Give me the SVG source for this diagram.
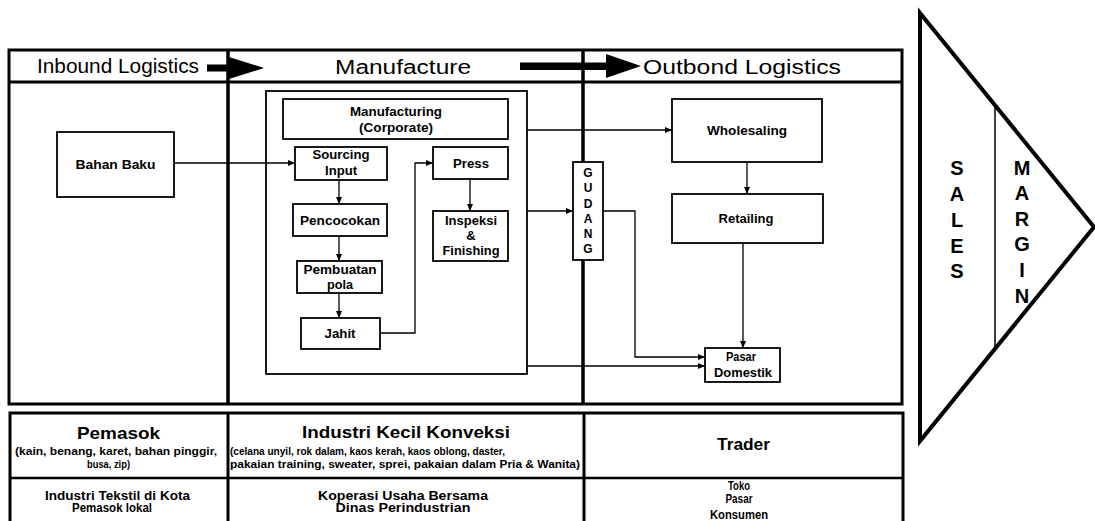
<svg xmlns="http://www.w3.org/2000/svg" width="1095" height="521" viewBox="0 0 1095 521">
<style>
text{font-family:"Liberation Sans",Arial,sans-serif;fill:#000}
.hd{font-size:20px}
.nd{font-size:13px;font-weight:bold;text-anchor:middle}
.sm{font-size:10px;font-weight:bold;text-anchor:middle}
.bt{font-size:17px;font-weight:bold;text-anchor:middle}
.r2{font-size:12px;font-weight:bold;text-anchor:middle}
.gd{font-size:12px;font-weight:bold;text-anchor:middle}
.vl{font-size:20px;font-weight:bold;text-anchor:middle}
.box{fill:#fff;stroke:#000;stroke-width:1.8}
.frame{fill:none;stroke:#000;stroke-width:3}
.con{fill:none;stroke:#000;stroke-width:1.3}
</style>
<defs>
<marker id="ah" markerWidth="8" markerHeight="8" refX="7" refY="4" orient="auto" markerUnits="userSpaceOnUse">
<path d="M0,1 L7,4 L0,7 Z" fill="#000"/>
</marker>
</defs>
<rect width="1095" height="521" fill="#fff"/>

<g id="frame">
<rect class="frame" x="9" y="50" width="893" height="354"/>
<line x1="9" y1="82" x2="902" y2="82" stroke="#000" stroke-width="3"/>
<line x1="228" y1="50" x2="228" y2="404" stroke="#000" stroke-width="3.5"/>
<line x1="583" y1="50" x2="583" y2="404" stroke="#000" stroke-width="3.5"/>
</g>

<g id="header">
<text class="hd" x="37" y="73" font-size="18" textLength="162" lengthAdjust="spacingAndGlyphs">Inbound Logistics</text>
<rect x="207" y="64.5" width="24" height="7" fill="#000"/>
<polygon points="229,57 264,68 229,79" fill="#000"/>
<text class="hd" x="335" y="74" font-size="21" textLength="136" lengthAdjust="spacingAndGlyphs">Manufacture</text>
<rect x="520" y="62.5" width="90" height="7.5" fill="#000"/>
<polygon points="606,54 641,66 606,78" fill="#000"/>
<text class="hd" x="643" y="74" font-size="21" textLength="198" lengthAdjust="spacingAndGlyphs">Outbond Logistics</text>
</g>

<g id="container">
<rect x="266" y="91" width="261" height="283" fill="none" stroke="#000" stroke-width="1.8"/>
</g>

<g id="bahan-baku">
<rect class="box" x="57" y="132" width="117" height="65"/>
<text class="nd" x="115.5" y="168.5" textLength="80" lengthAdjust="spacingAndGlyphs">Bahan Baku</text>
</g>

<g id="manufacturing">
<rect class="box" x="283" y="99" width="225" height="40"/>
<text class="nd" x="396" y="116" textLength="92" lengthAdjust="spacingAndGlyphs">Manufacturing</text>
<text class="nd" x="396" y="131.5" textLength="74" lengthAdjust="spacingAndGlyphs">(Corporate)</text>
</g>

<g id="sourcing-input">
<rect class="box" x="295" y="147" width="92" height="33"/>
<text class="nd" x="341" y="159" textLength="57" lengthAdjust="spacingAndGlyphs">Sourcing</text>
<text class="nd" x="341" y="175" textLength="32" lengthAdjust="spacingAndGlyphs">Input</text>
</g>

<g id="pencocokan">
<rect class="box" x="293" y="204" width="94" height="32"/>
<text class="nd" x="340" y="224.5" textLength="80" lengthAdjust="spacingAndGlyphs">Pencocokan</text>
</g>

<g id="pembuatan-pola">
<rect class="box" x="297" y="261" width="85" height="32"/>
<text class="nd" x="340" y="274" textLength="73" lengthAdjust="spacingAndGlyphs">Pembuatan</text>
<text class="nd" x="340" y="288.5" textLength="26" lengthAdjust="spacingAndGlyphs">pola</text>
</g>

<g id="jahit">
<rect class="box" x="301" y="318" width="79" height="31"/>
<text class="nd" x="340" y="337.5" textLength="31" lengthAdjust="spacingAndGlyphs">Jahit</text>
</g>

<g id="press">
<rect class="box" x="433" y="147" width="75" height="32"/>
<text class="nd" x="471" y="167.5" textLength="36" lengthAdjust="spacingAndGlyphs">Press</text>
</g>

<g id="inspeksi-finishing">
<rect class="box" x="433" y="211" width="75" height="50"/>
<text class="nd" x="471" y="224.5" textLength="52" lengthAdjust="spacingAndGlyphs">Inspeksi</text>
<text class="nd" x="471" y="239.5">&amp;</text>
<text class="nd" x="471" y="255" textLength="57" lengthAdjust="spacingAndGlyphs">Finishing</text>
</g>

<g id="gudang">
<rect class="box" x="573" y="162" width="30" height="98"/>
<text class="gd" x="588" y="176.5">G</text>
<text class="gd" x="588" y="191.5">U</text>
<text class="gd" x="588" y="208">D</text>
<text class="gd" x="588" y="222.5">A</text>
<text class="gd" x="588" y="237.5">N</text>
<text class="gd" x="588" y="252.5">G</text>
</g>

<g id="wholesaling">
<rect class="box" x="672" y="99" width="150" height="63"/>
<text class="nd" x="747" y="134.5" textLength="80" lengthAdjust="spacingAndGlyphs">Wholesaling</text>
</g>

<g id="retailing">
<rect class="box" x="672" y="194" width="151" height="49"/>
<text class="nd" x="746" y="222.5" textLength="55" lengthAdjust="spacingAndGlyphs">Retailing</text>
</g>

<g id="pasar-domestik">
<rect class="box" x="705" y="348" width="75" height="34"/>
<text class="nd" x="741" y="361" font-size="12" textLength="30" lengthAdjust="spacingAndGlyphs">Pasar</text>
<text class="nd" x="743" y="377" font-size="12" textLength="58" lengthAdjust="spacingAndGlyphs">Domestik</text>
</g>

<g id="connectors">
<path class="con" d="M174,163 H295" marker-end="url(#ah)"/>
<path class="con" d="M339,180 V204" marker-end="url(#ah)"/>
<path class="con" d="M339,236 V261" marker-end="url(#ah)"/>
<path class="con" d="M339,293 V318" marker-end="url(#ah)"/>
<path class="con" d="M380,333 H415 V163 H433" marker-end="url(#ah)"/>
<path class="con" d="M470,179 V211" marker-end="url(#ah)"/>
<path class="con" d="M527,130 H672" marker-end="url(#ah)"/>
<path class="con" d="M527,211 H573" marker-end="url(#ah)"/>
<path class="con" d="M603,211 H635 V357 H705" marker-end="url(#ah)"/>
<path class="con" d="M527,366 H705" marker-end="url(#ah)"/>
<path class="con" d="M747,162 V194" marker-end="url(#ah)"/>
<path class="con" d="M743,243 V348" marker-end="url(#ah)"/>
</g>

<g id="bottom-table">
<rect x="10" y="413" width="893" height="120" fill="none" stroke="#000" stroke-width="3"/>
<line x1="10" y1="478" x2="903" y2="478" stroke="#000" stroke-width="2.5"/>
<line x1="228" y1="413" x2="228" y2="521" stroke="#000" stroke-width="3"/>
<line x1="584" y1="413" x2="584" y2="521" stroke="#000" stroke-width="3"/>
</g>

<g id="pemasok">
<text class="bt" x="118.5" y="439" textLength="83" lengthAdjust="spacingAndGlyphs">Pemasok</text>
<text class="sm" x="116" y="455" textLength="202" lengthAdjust="spacingAndGlyphs">(kain, benang, karet, bahan pinggir,</text>
<text class="sm" x="108.5" y="468" textLength="43" lengthAdjust="spacingAndGlyphs">busa, zip)</text>
<text class="r2" x="117.5" y="500" textLength="145" lengthAdjust="spacingAndGlyphs">Industri Tekstil di Kota</text>
<text class="r2" x="112" y="512" textLength="80" lengthAdjust="spacingAndGlyphs">Pemasok lokal</text>
</g>

<g id="industri-kecil">
<text class="bt" x="406" y="438" textLength="208" lengthAdjust="spacingAndGlyphs">Industri Kecil Konveksi</text>
<text class="sm" x="367.5" y="455" textLength="275" lengthAdjust="spacingAndGlyphs">(celana unyil, rok dalam, kaos kerah, kaos oblong, daster,</text>
<text class="sm" x="405" y="468" textLength="350" lengthAdjust="spacingAndGlyphs">pakaian training, sweater, sprei, pakaian dalam Pria &amp; Wanita)</text>
<text class="r2" x="403" y="500" textLength="170" lengthAdjust="spacingAndGlyphs">Koperasi Usaha Bersama</text>
<text class="r2" x="403" y="512" textLength="135" lengthAdjust="spacingAndGlyphs">Dinas Perindustrian</text>
</g>

<g id="trader">
<text class="bt" x="743.5" y="450" textLength="53" lengthAdjust="spacingAndGlyphs">Trader</text>
<text class="r2" x="739" y="490" textLength="22" lengthAdjust="spacingAndGlyphs">Toko</text>
<text class="r2" x="739" y="503" textLength="27" lengthAdjust="spacingAndGlyphs">Pasar</text>
<text class="r2" x="739" y="519" textLength="58" lengthAdjust="spacingAndGlyphs">Konsumen</text>
</g>

<g id="sales-margin">
<polygon points="920,13 1094,227 920,441" fill="none" stroke="#000" stroke-width="4" stroke-linejoin="miter"/>
<line x1="995" y1="105" x2="995" y2="349" stroke="#000" stroke-width="1.5"/>
<text class="vl" x="957" y="174.5">S</text>
<text class="vl" x="957" y="200.5">A</text>
<text class="vl" x="957" y="226.5">L</text>
<text class="vl" x="957" y="252.5">E</text>
<text class="vl" x="957" y="277.5">S</text>
<text class="vl" x="1022" y="174.5">M</text>
<text class="vl" x="1022" y="200">A</text>
<text class="vl" x="1022" y="225.5">R</text>
<text class="vl" x="1022" y="251">G</text>
<text class="vl" x="1022" y="276.5">I</text>
<text class="vl" x="1022" y="302.5">N</text>
</g>
</svg>
